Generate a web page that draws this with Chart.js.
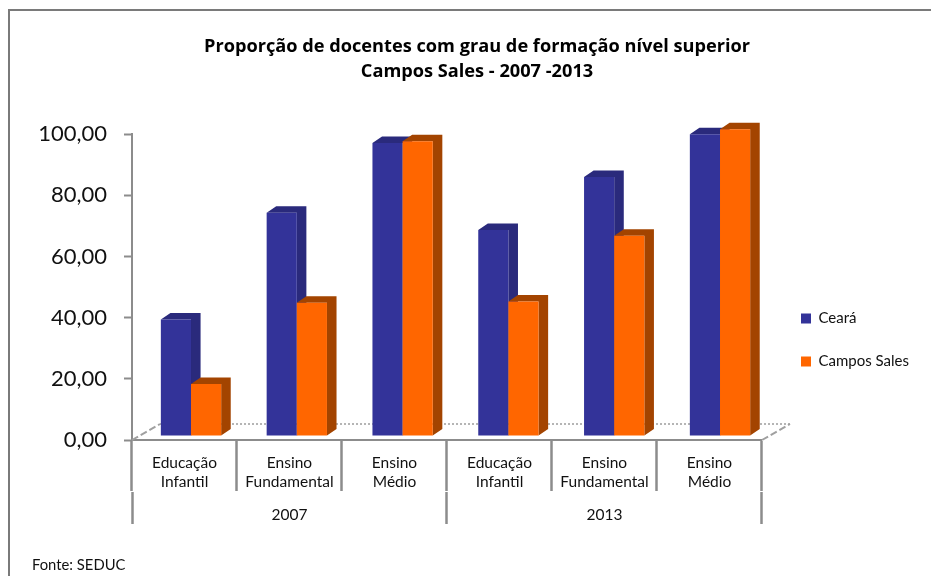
<!DOCTYPE html>
<html><head><meta charset="utf-8">
<style>html,body{margin:0;padding:0;background:#fff}#wrap{position:relative;width:931px;height:576px}canvas{display:block}</style>
<script src="https://cdn.jsdelivr.net/npm/chart.js@4"></script></head>
<body><div id="wrap"><canvas id="c" width="931" height="576"></canvas></div>
<script>
const categories = [["Educação","Infantil"],["Ensino","Fundamental"],["Ensino","Médio"],["Educação","Infantil"],["Ensino","Fundamental"],["Ensino","Médio"]];
const years = ["2007","2013"];
const ceara = [38.1,73,95.8,67.4,84.7,98.7];
const camposSales = [17,43.6,96.4,44,65.5,100.3];
const titleLines = ["Proporção de docentes com grau de formação nível superior","Campos Sales - 2007 -2013"];
const sourceNote = "Fonte: SEDUC";
const AXIS = "#8c8c8c", FONT = "Lato, 'Open Sans', sans-serif";
const sideColor = ["#2a2a7c","#a34400"];
const DEPTH_X = 9.5, DEPTH_Y = 6.5, LEGEND_PAD = 28;

const bars3d = {
  id:"bars3d",
  beforeDatasetDraw(){ return false; },
  beforeDatasetsDraw(chart){
    const {ctx} = chart, x = chart.scales.x, y = chart.scales.y;
    const bottom = y.getPixelForValue(0);
    // frame: only its left and top edges fall inside the picture
    ctx.save();
    ctx.strokeStyle="#7a7a7a"; ctx.lineWidth=2;
    ctx.beginPath(); ctx.moveTo(9,576); ctx.lineTo(9,10); ctx.lineTo(931,10); ctx.stroke();
    // dotted floor
    ctx.strokeStyle="#b5b5b5"; ctx.lineWidth=2; ctx.setLineDash([2,2]);
    ctx.beginPath(); ctx.moveTo(x.left+28,bottom-16); ctx.lineTo(x.right+28,bottom-16); ctx.stroke();
    ctx.strokeStyle="#a0a0a0"; ctx.setLineDash([7,3]);
    ctx.beginPath(); ctx.moveTo(x.left,bottom); ctx.lineTo(x.left+28,bottom-16);
    ctx.moveTo(x.right,bottom); ctx.lineTo(x.right+28,bottom-16); ctx.stroke();
    ctx.restore();
  },
  afterDatasetsDraw(chart){
    const {ctx} = chart;
    ctx.save();
    // Excel's 3D projection: the front plane sits slightly right of / above the axis plane
    ctx.transform(529/525,0,0,1,5.1,-4);
    const n = categories.length;
    for(let i=0;i<n;i++){
      [0,1].forEach(d=>{
        const el = chart.getDatasetMeta(d).data[i];
        const l = el.x-el.width/2, r = el.x+el.width/2, t = el.y, b = el.base;
        ctx.fillStyle = sideColor[d];
        ctx.beginPath();
        ctx.moveTo(l,t); ctx.lineTo(l+DEPTH_X,t-DEPTH_Y); ctx.lineTo(r+DEPTH_X,t-DEPTH_Y);
        ctx.lineTo(r+DEPTH_X,b-DEPTH_Y); ctx.lineTo(r,b); ctx.lineTo(r,t); ctx.closePath(); ctx.fill();
        el.draw(ctx);
      });
    }
    ctx.restore();
    ctx.save();
    ctx.fillStyle="#111"; ctx.font="14.8px "+FONT; ctx.textBaseline="middle";
    ctx.fillText(sourceNote,32,565);
    ctx.restore();
  },
  afterLayout(chart){
    const lg = chart.legend, dx = 801-(lg.left+LEGEND_PAD), dy = 52;
    lg.left+=dx; lg.right+=dx; lg.top+=dy; lg.bottom+=dy;
    const tb = chart.titleBlock, tdx = 477-(tb.left+tb.right)/2;
    tb.left+=tdx; tb.right+=tdx;
  }
};

const chart = new Chart(document.getElementById("c"),{
  type:"bar",
  data:{labels:categories,datasets:[
    {label:"Ceará",data:ceara,backgroundColor:"#333399",borderWidth:0,xAxisID:"x",yAxisID:"y"},
    {label:"Campos Sales",data:camposSales,backgroundColor:"#ff6600",borderWidth:0,xAxisID:"x",yAxisID:"y"}
  ]},
  plugins:[bars3d],
  options:{
    responsive:false,animation:false,
    layout:{padding:{left:0,right:23,top:0,bottom:0}},
    datasets:{bar:{categoryPercentage:0.57,barPercentage:1}},
    plugins:{
      tooltip:{enabled:false},
      title:{display:true,text:titleLines,color:"#000",font:{family:"'Open Sans', Lato, sans-serif",size:18.2,weight:"bold",lineHeight:1.38},padding:{top:34,bottom:50}},
      legend:{display:true,position:"right",onClick:null,
        labels:{boxWidth:10,boxHeight:10,color:"#111",font:{family:FONT,size:15},padding:LEGEND_PAD}}
    },
    scales:{
      x:{type:"category",position:"bottom",offset:true,
        grid:{display:true,drawOnChartArea:false,drawTicks:true,tickLength:51,tickWidth:2.5,tickColor:AXIS,offset:true},
        border:{color:AXIS,width:2},
        ticks:{color:"#111",font:{family:FONT,size:15.5,lineHeight:1.25},padding:-38,maxRotation:0,autoSkip:false},
        afterFit(s){s.height=52;}
      },
      x2:{type:"category",position:"bottom",labels:years,offset:true,
        grid:{display:true,drawOnChartArea:false,drawTicks:true,tickLength:32,tickWidth:2.5,tickColor:AXIS,offset:true},
        border:{display:false},
        ticks:{color:"#111",font:{family:FONT,size:15.5},padding:-18,maxRotation:0,autoSkip:false},
        afterFit(s){s.height=84;}
      },
      y:{min:0,max:100,
        grid:{display:true,drawOnChartArea:false,drawTicks:true,tickLength:8,tickColor:AXIS,tickWidth:2},
        border:{color:AXIS,width:2},
        ticks:{stepSize:20,color:"#111",font:{family:FONT,size:22},padding:17,callback:v=>v.toFixed(2).replace(".",",")},
        afterFit(s){s.width=132;}
      }
    }
  }
});
</script></body></html>
